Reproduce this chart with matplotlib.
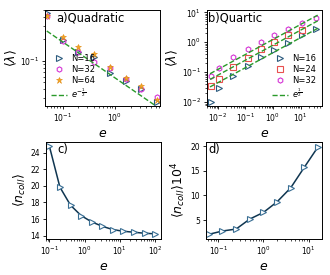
import matplotlib
matplotlib.use("Agg")
import matplotlib.pyplot as plt
import numpy as np
from matplotlib.ticker import NullFormatter, LogLocator

# ---------------- data ----------------
# panel a (Quadratic)
ea = [0.05, 0.1, 0.2, 0.4, 0.8, 1.6, 3.2, 6.4]
la_16 = [0.455, 0.194, 0.133, 0.111, 0.068, 0.052, 0.040, 0.027]
la_32 = [0.42, 0.188, 0.133, 0.095, 0.078, 0.056, 0.041, 0.031]
la_64 = [0.42, 0.216, 0.156, 0.124, 0.081, 0.057, 0.0446, 0.0285]
fit_a_e = [0.05, 6.0]
fit_a_c = 0.0578

# panel b (Quartic)
eb = [0.0055, 0.011, 0.035, 0.12, 0.38, 1.1, 3.4, 11.5, 37]
lb_16 = [0.0105, 0.029, 0.075, 0.166, 0.33, 0.55, 0.97, 1.74, 2.7]
lb_24 = [0.036, 0.06, 0.154, 0.31, 0.58, 1.05, 1.74, 2.6]
lb_32 = [0.075, 0.136, 0.33, 0.61, 1.05, 1.74, 2.85, 4.4, 6.3]
fit_b_e = [0.0052, 42]
fit_b_c = [0.45, 0.80, 1.24]

# panel c
ec = [0.1 * 2 ** k for k in range(11)]
nc = [24.8, 19.84, 17.67, 16.42, 15.66, 15.13, 14.73, 14.53, 14.41, 14.29, 14.22]

# panel d
ed = [0.0625 * 2 ** k for k in range(9)]
nd = [2.1, 2.77, 3.17, 5.2, 6.55, 8.7, 11.55, 15.74, 19.87]

# ---------------- style ----------------
c_tri = '#2b5a7e'
c_hex = '#d535d5'
c_star = '#f5a623'
c_sq = '#e8504f'
c_fit = '#2a9a2a'
c_line = '#0f3550'

plt.rcParams.update({
    'font.family': 'DejaVu Sans',
    'xtick.labelsize': 5.5,
    'ytick.labelsize': 5.5,
    'axes.linewidth': 0.7,
    'xtick.major.size': 2.5,
    'ytick.major.size': 2.5,
    'xtick.minor.size': 1.5,
    'ytick.minor.size': 1.5,
    'xtick.major.width': 0.6,
    'ytick.major.width': 0.6,
    'xtick.minor.width': 0.5,
    'ytick.minor.width': 0.5,
    'xtick.major.pad': 1.5,
    'ytick.major.pad': 1.5,
    'mathtext.fontset': 'dejavusans',
})

fig = plt.figure(figsize=(3.3, 2.75), dpi=100)
axa = fig.add_axes([0.136, 0.6145, 0.348, 0.349])
axb = fig.add_axes([0.626, 0.6145, 0.349, 0.349])
axc = fig.add_axes([0.138, 0.131, 0.35, 0.353])
axd = fig.add_axes([0.623, 0.131, 0.352, 0.353])

ms = 3.8
lab_fs = 9
leg_fs = 6

# ---- panel a ----
axa.plot(ea, la_16, ls='none', marker='>', ms=ms, mfc='none', mec=c_tri, mew=0.8, label='N=16')
axa.plot(ea, la_32, ls='none', marker='h', ms=ms, mfc='none', mec=c_hex, mew=0.8, label='N=32')
axa.plot(ea, la_64, ls='none', marker='*', ms=ms + 0.8, mfc=c_star, mec='#e08a10', mew=0.4, label='N=64')
fe = np.array(fit_a_e)
axa.plot(fe, fit_a_c * fe ** -0.5, ls='--', color=c_fit, lw=1.0, label=r'$e^{-\frac{1}{2}}$')
axa.set_xscale('log')
axa.set_yscale('log')
axa.set_xlim(0.046, 7.2)
axa.set_ylim(0.0234, 0.506)
axa.set_xlabel(r'$e$', fontsize=lab_fs, labelpad=2)
axa.set_ylabel(r'$\langle \lambda \rangle$', fontsize=lab_fs, labelpad=1)
axa.text(0.1, 0.985, 'a)Quadratic', transform=axa.transAxes, ha='left', va='top', fontsize=8.3)
axa.legend(loc='lower left', frameon=False, fontsize=leg_fs, handlelength=1.9,
           handletextpad=0.5, labelspacing=0.25, borderaxespad=0.3)

# ---- panel b ----
axb.plot(eb, lb_16, ls='none', marker='>', ms=ms, mfc='none', mec=c_tri, mew=0.8, label='N=16')
axb.plot(eb[:len(lb_24)], lb_24, ls='none', marker='s', ms=ms, mfc='none', mec=c_sq, mew=0.8, label='N=24')
axb.plot(eb, lb_32, ls='none', marker='h', ms=ms, mfc='none', mec=c_hex, mew=0.8, label='N=32')
fe = np.array(fit_b_e)
for i, c in enumerate(fit_b_c):
    axb.plot(fe, c * fe ** 0.5, ls='--', color=c_fit, lw=1.0,
             label=r'$e^{\frac{1}{2}}$' if i == 0 else None)
axb.set_xscale('log')
axb.set_yscale('log')
axb.set_xlim(0.0039, 59)
axb.set_ylim(0.0075, 11.9)
axb.set_xlabel(r'$e$', fontsize=lab_fs, labelpad=2)
axb.set_ylabel(r'$\langle \lambda \rangle$', fontsize=lab_fs, labelpad=1)
axb.text(0.01, 0.985, 'b)Quartic', transform=axb.transAxes, ha='left', va='top', fontsize=8.3)
h, l = axb.get_legend_handles_labels()
axb.legend(h, l, loc='lower right', frameon=False, fontsize=leg_fs, handlelength=1.9,
           handletextpad=0.5, labelspacing=0.25, borderaxespad=0.3)

# ---- panel c ----
axc.plot(ec, nc, color=c_line, lw=1.1, marker='>', ms=ms + 0.3, mfc='white', mec='#3a6f94', mew=0.8)
axc.set_xscale('log')
axc.set_xlim(0.078, 150)
axc.set_ylim(13.6, 25.3)
axc.set_yticks([14, 16, 18, 20, 22, 24])
axc.set_xlabel(r'$e$', fontsize=lab_fs, labelpad=2)
axc.set_ylabel(r'$\langle n_{coll} \rangle$', fontsize=lab_fs, labelpad=2)
axc.text(0.1, 0.985, 'c)', transform=axc.transAxes, ha='left', va='top', fontsize=8.3)

# ---- panel d ----
axd.plot(ed, nd, color=c_line, lw=1.1, marker='>', ms=ms + 0.3, mfc='white', mec='#3a6f94', mew=0.8)
axd.set_xscale('log')
axd.set_xlim(0.053, 19.4)
axd.set_ylim(1.15, 20.9)
axd.set_yticks([5, 10, 15, 20])
axd.set_xlabel(r'$e$', fontsize=lab_fs, labelpad=2)
axd.set_ylabel(r'$\langle n_{coll} \rangle 10^4$', fontsize=lab_fs, labelpad=2)
axd.text(0.02, 0.985, 'd)', transform=axd.transAxes, ha='left', va='top', fontsize=8.3)

for ax in (axa, axb, axc, axd):
    ax.xaxis.set_minor_locator(LogLocator(base=10, subs=np.arange(2, 10), numticks=20))
    ax.xaxis.set_minor_formatter(NullFormatter())
for ax in (axa, axb):
    ax.yaxis.set_minor_locator(LogLocator(base=10, subs=np.arange(2, 10), numticks=20))
    ax.yaxis.set_minor_formatter(NullFormatter())

fig.savefig('out.png', dpi=100)
